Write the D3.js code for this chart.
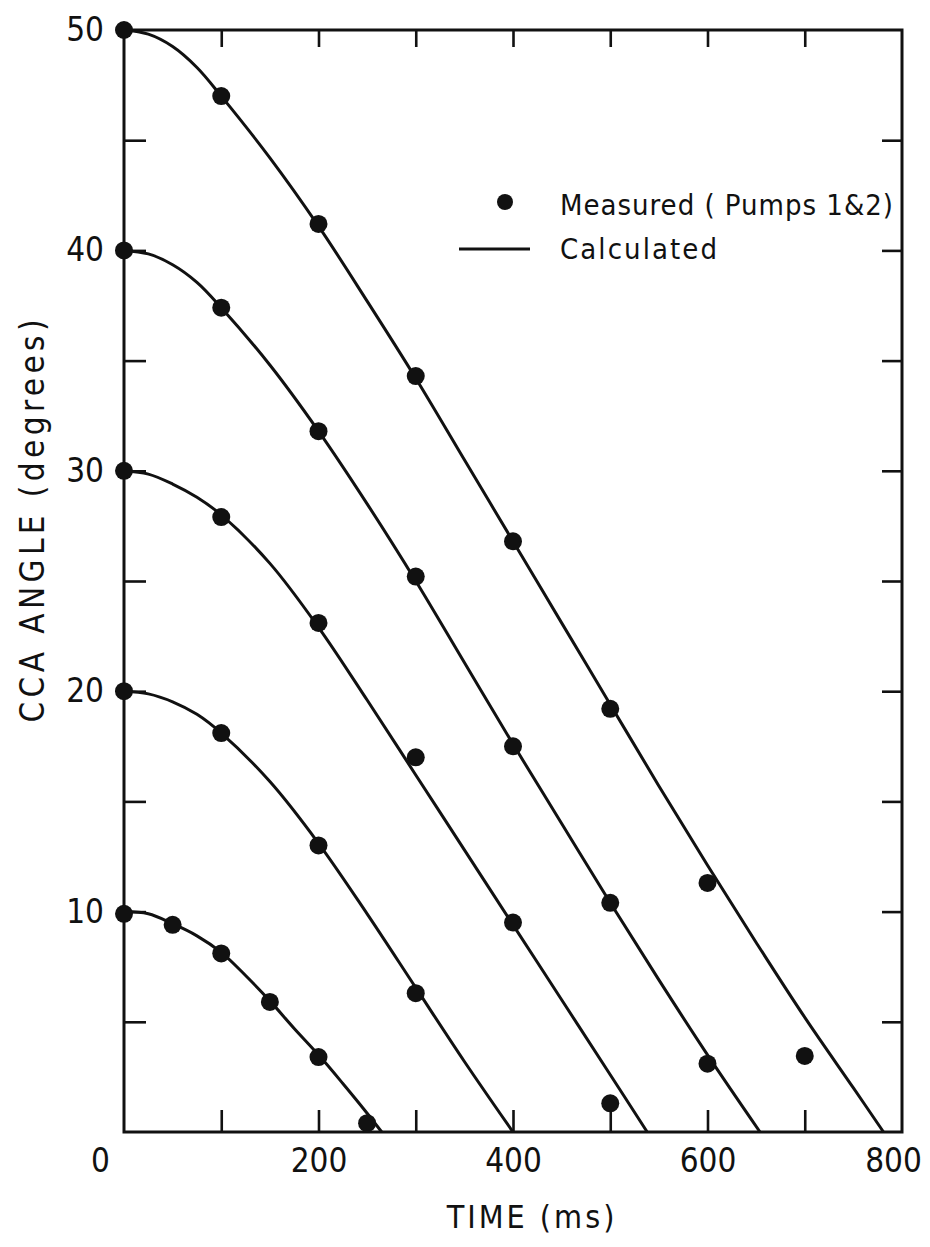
<!DOCTYPE html>
<html>
<head>
<meta charset="utf-8">
<script src="https://cdn.jsdelivr.net/npm/d3@7"></script>
<style>
  html, body { margin: 0; padding: 0; background: #fff; }
  svg { display: block; }
  text { font-family: "DejaVu Sans Condensed", "DejaVu Sans", sans-serif; fill: #111; }
</style>
</head>
<body>
<svg id="chart" width="930" height="1247"></svg>
<script>
// ---- data ----
const xMinorTicks = [100, 200, 300, 400, 500, 600, 700];
const xTickLabels = [0, 200, 400, 600, 800];
const yMinorTicks = [5, 10, 15, 20, 25, 30, 35, 40, 45];
const yTickLabels = [10, 20, 30, 40, 50];

// measured points (time ms, angle deg)
const measured50 = [[0,50],[100,47.0],[200,41.2],[300,34.3],[400,26.8],[500,19.2],[600,11.3],[700,3.45]];
const measured40 = [[0,40],[100,37.4],[200,31.8],[300,25.2],[400,17.5],[500,10.4],[600,3.1]];
const measured30 = [[0,30],[100,27.9],[200,23.1],[300,17.0],[400,9.5],[500,1.3]];
const measured20 = [[0,20],[100,18.1],[200,13.0],[300,6.3]];
const measured10 = [[0,9.9],[50,9.4],[100,8.1],[150,5.9],[200,3.4],[250,0.4]];

// calculated curves
const calc50 = [[0,50],[25,49.81],[50,49.25],[75,48.3],[100,47.0],[150,44.2],[200,41.1],[250,37.7],[300,34.2],[350,30.5],[400,26.8],[450,23.1],[500,19.4],[550,15.7],[600,12.1],[650,8.6],[700,5.2],[750,2.0],[781,0]];
const calc40 = [[0,40],[25,39.84],[50,39.35],[75,38.55],[100,37.4],[150,34.8],[200,31.8],[250,28.5],[300,25.0],[350,21.3],[400,17.6],[450,14.0],[500,10.4],[550,6.9],[600,3.5],[654,0]];
const calc30 = [[0,30],[25,29.85],[50,29.4],[75,28.8],[100,28.0],[150,25.8],[200,22.9],[250,19.6],[300,16.2],[350,12.8],[400,9.4],[450,6.0],[500,2.6],[538,0]];
const calc20 = [[0,20],[25,19.88],[50,19.52],[75,18.95],[100,18.1],[150,15.9],[200,13.1],[250,9.9],[300,6.55],[350,3.2],[400,0]];
const calc10 = [[0,10],[25,9.9],[50,9.45],[75,8.9],[100,8.15],[125,7.1],[150,5.95],[175,4.7],[200,3.5],[225,2.2],[250,0.85],[265,0]];

const measuredSeries = [measured50, measured40, measured30, measured20, measured10];
const calcSeries = [calc50, calc40, calc30, calc20, calc10];

// ---- layout ----
const svg = d3.select("#chart");
const x = d3.scaleLinear().domain([0, 800]).range([124, 902]);
const y = d3.scaleLinear().domain([0, 50]).range([1132, 30]);
const ink = "#111";

// frame
svg.append("rect")
  .attr("x", x(0)).attr("y", y(50))
  .attr("width", x(800) - x(0)).attr("height", y(0) - y(50))
  .attr("fill", "none").attr("stroke", ink).attr("stroke-width", 3);

function styleAxis(g) {
  g.select(".domain").remove();
  g.selectAll(".tick line").attr("stroke", ink).attr("stroke-width", 2.6);
}

// inward ticks on all four sides
svg.append("g").attr("transform", `translate(0,${y(0)})`)
  .call(d3.axisBottom(x).tickValues(xMinorTicks).tickSize(-22).tickFormat(""))
  .call(styleAxis);
svg.append("g").attr("transform", `translate(0,${y(50)})`)
  .call(d3.axisTop(x).tickValues(xMinorTicks).tickSize(-17).tickFormat(""))
  .call(styleAxis);
svg.append("g").attr("transform", `translate(${x(0)},0)`)
  .call(d3.axisLeft(y).tickValues(yMinorTicks).tickSize(-22).tickFormat(""))
  .call(styleAxis);
svg.append("g").attr("transform", `translate(${x(800)},0)`)
  .call(d3.axisRight(y).tickValues(yMinorTicks).tickSize(-20).tickFormat(""))
  .call(styleAxis);

// tick labels
const xl = svg.append("g").attr("transform", `translate(0,${y(0)})`)
  .call(d3.axisBottom(x).tickValues(xTickLabels).tickSize(0).tickPadding(17).tickFormat(d3.format("d")));
xl.select(".domain").remove();
xl.selectAll("text").attr("font-size", 33).attr("fill", ink)
  .attr("font-family", '"DejaVu Sans Condensed", sans-serif')
  .attr("dx", d => d === 0 ? -24 : (d === 800 ? -9 : 0));

const yl = svg.append("g").attr("transform", `translate(${x(0)},0)`)
  .call(d3.axisLeft(y).tickValues(yTickLabels).tickSize(0).tickPadding(20).tickFormat(d3.format("d")));
yl.select(".domain").remove();
yl.selectAll("text").attr("font-size", 33).attr("fill", ink)
  .attr("font-family", '"DejaVu Sans Condensed", sans-serif');

// axis titles
svg.append("text")
  .attr("x", 532).attr("y", 1228)
  .attr("text-anchor", "middle")
  .attr("font-size", 32).attr("letter-spacing", 3)
  .text("TIME (ms)");

svg.append("text")
  .attr("transform", `translate(44,521) rotate(-90)`)
  .attr("text-anchor", "middle")
  .attr("font-size", 33)
  .attr("textLength", 403).attr("lengthAdjust", "spacing")
  .text("CCA ANGLE (degrees)");

// calculated curves
const line = d3.line().x(d => x(d[0])).y(d => y(d[1])).curve(d3.curveCatmullRom.alpha(0.5));
svg.append("g").selectAll("path").data(calcSeries).join("path")
  .attr("d", line).attr("fill", "none").attr("stroke", ink).attr("stroke-width", 3);

// measured points
svg.append("g").selectAll("g").data(measuredSeries).join("g")
  .selectAll("circle").data(d => d).join("circle")
  .attr("cx", d => x(d[0])).attr("cy", d => y(d[1])).attr("r", 9).attr("fill", ink);

// legend
svg.append("circle").attr("cx", 505).attr("cy", 202).attr("r", 8).attr("fill", ink);
svg.append("text").attr("x", 560).attr("y", 215).attr("font-size", 29)
  .attr("textLength", 333).attr("lengthAdjust", "spacing")
  .text("Measured ( Pumps 1&2)");
svg.append("line").attr("x1", 459).attr("x2", 530).attr("y1", 249).attr("y2", 249)
  .attr("stroke", ink).attr("stroke-width", 3);
svg.append("text").attr("x", 560).attr("y", 259).attr("font-size", 29)
  .attr("textLength", 157).attr("lengthAdjust", "spacing")
  .text("Calculated");
</script>
</body>
</html>
